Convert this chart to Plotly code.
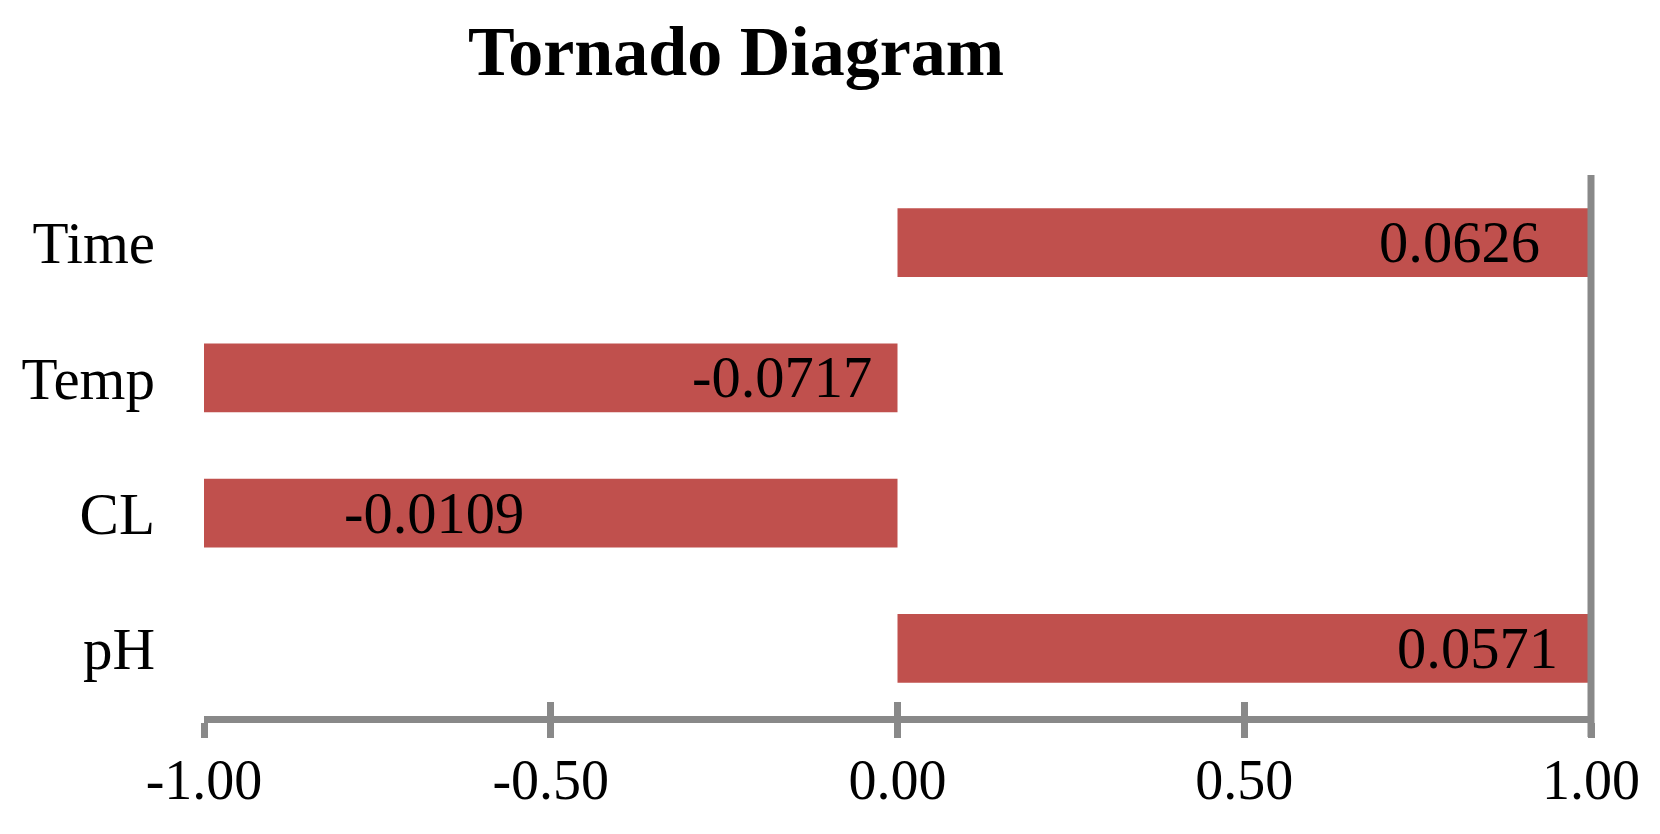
import plotly.graph_objects as go

# ---- data ----
categories = ["Time", "Temp", "CL", "pH"]
bar_values = [1.0, -1.0, -1.0, 1.0]
label_values = ["0.0626", "-0.0717", "-0.0109", "0.0571"]
tick_values = [-1.0, -0.5, 0.0, 0.5, 1.0]
tick_labels = ["-1.00", "-0.50", "0.00", "0.50", "1.00"]

# ---- style ----
BAR = "#C0504D"
GRAY = "#898989"
FONT = "Liberation Serif, Times New Roman, serif"
label_xshift = [-49, -24, -372, -31]   # pixel offsets of the data labels from the bar's right edge

W, H = 1652, 826   # page body keeps an 8px margin

fig = go.Figure()
fig.add_trace(go.Bar(
    y=categories, x=bar_values, orientation="h",
    marker=dict(color=BAR, line=dict(width=0)),
    width=0.51, showlegend=False, hoverinfo="skip",
))
# invisible helper trace for the overlay axis that draws the inward half of the crossing ticks
fig.add_trace(go.Scatter(x=[tick_values[0], tick_values[-1]], y=[categories[0], categories[0]],
                         xaxis="x2", yaxis="y", mode="markers",
                         marker=dict(opacity=0), showlegend=False, hoverinfo="skip"))

for cat, v, txt, dx in zip(categories, bar_values, label_values, label_xshift):
    fig.add_annotation(x=max(v, 0.0), y=cat, xref="x", yref="y", text=txt,
                       showarrow=False, xanchor="right", yanchor="middle", xshift=dx,
                       font=dict(family=FONT, size=58.5, color="black"))

# vertical axis line at the right edge (x = 1)
fig.add_shape(type="line", xref="paper", yref="paper", x0=1, x1=1, y0=-0.0388, y1=1,
              line=dict(color=GRAY, width=7), layer="above")

fig.update_layout(
    width=W, height=H,
    paper_bgcolor="white", plot_bgcolor="white",
    margin=dict(l=196, r=69, t=167, b=118),
    title=dict(text="<b>Tornado Diagram</b>", x=728 / W, xanchor="center",
               y=1 - 42.5 / H, yanchor="middle", yref="container",
               font=dict(family=FONT, size=70, color="black")),
    xaxis=dict(range=[-1, 1], tickvals=tick_values, ticktext=tick_labels,
               showgrid=False, zeroline=False,
               showline=True, linecolor=GRAY, linewidth=7,
               ticks="outside", ticklen=15, tickwidth=7, tickcolor=GRAY,
               ticklabelstandoff=-6,
               tickfont=dict(family=FONT, size=56, color="black")),
    xaxis2=dict(range=[-1, 1], overlaying="x", anchor="y", side="bottom",
                tickvals=tick_values, showticklabels=False,
                showgrid=False, zeroline=False, showline=False,
                ticks="inside", ticklen=14, tickwidth=7, tickcolor=GRAY),
    yaxis=dict(autorange="reversed", showgrid=False, zeroline=False, showline=False,
               ticks="", ticklabelstandoff=48,
               tickfont=dict(family=FONT, size=59, color="black")),
)

fig.write_html("out.html")
